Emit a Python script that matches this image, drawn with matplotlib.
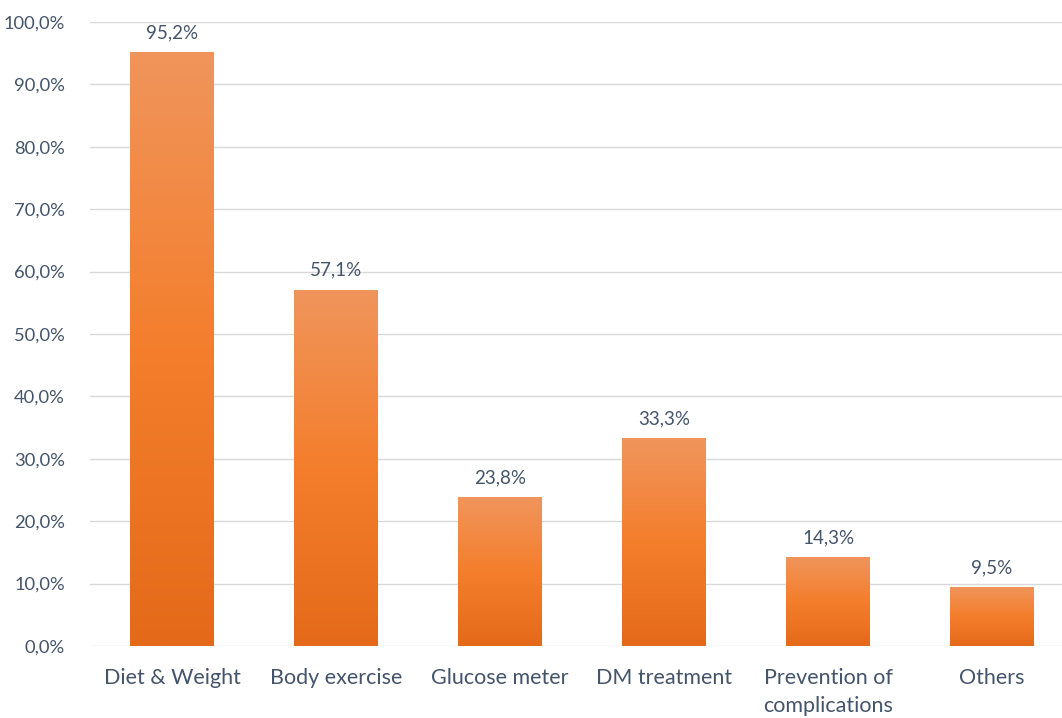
import numpy as np
import matplotlib
matplotlib.use("Agg")
import matplotlib.pyplot as plt
from matplotlib.colors import LinearSegmentedColormap
from matplotlib.ticker import FuncFormatter, MultipleLocator

categories = ["Diet & Weight", "Body exercise", "Glucose meter", "DM treatment",
              "Prevention of\ncomplications", "Others"]
values = [95.2, 57.1, 23.8, 33.3, 14.3, 9.5]

TEXT = "#44546A"
GRID = "#D9D9D9"
bar_cmap = LinearSegmentedColormap.from_list(
    "orange_grad", ["#E46A1A", "#F47E2C", "#F0955C"])

plt.rcParams["font.family"] = ["Lato", "DejaVu Sans"]

fig = plt.figure(figsize=(10.62, 7.18), dpi=100)
ax = fig.add_axes([90 / 1062, 72 / 718, 984 / 1062, 624 / 718])

x = np.arange(len(categories))
bars = ax.bar(x, values, width=0.51, color="none", zorder=2)

grad = np.linspace(0, 1, 256).reshape(-1, 1)
for rect, v in zip(bars, values):
    x0 = rect.get_x()
    w = rect.get_width()
    im = ax.imshow(grad, cmap=bar_cmap, origin="lower", aspect="auto",
                   extent=[x0, x0 + w, 0, v], zorder=2, interpolation="bilinear")
    im.set_clip_path(rect)
    ax.text(rect.get_x() + w / 2, v + 3.1, f"{v:.1f}%".replace(".", ","),
            ha="center", va="center", fontsize=13.5, color=TEXT)

ax.set_xlim(-0.5, len(categories) - 0.5)
ax.set_ylim(0, 100)
ax.yaxis.set_major_locator(MultipleLocator(10))
ax.yaxis.set_major_formatter(FuncFormatter(lambda v, _: f"{v:.1f}%".replace(".", ",")))
ax.set_xticks(x)
ax.set_xticklabels(categories, fontsize=15.5, color=TEXT, linespacing=1.5, va="top")
ax.tick_params(axis="y", labelsize=13.2, labelcolor=TEXT, length=0, pad=18)
ax.tick_params(axis="x", length=0, pad=16)
ax.grid(axis="y", color=GRID, linewidth=1.0, zorder=0)
ax.set_axisbelow(True)
for s in ax.spines.values():
    s.set_visible(False)

fig.savefig("out.png", dpi=100)
